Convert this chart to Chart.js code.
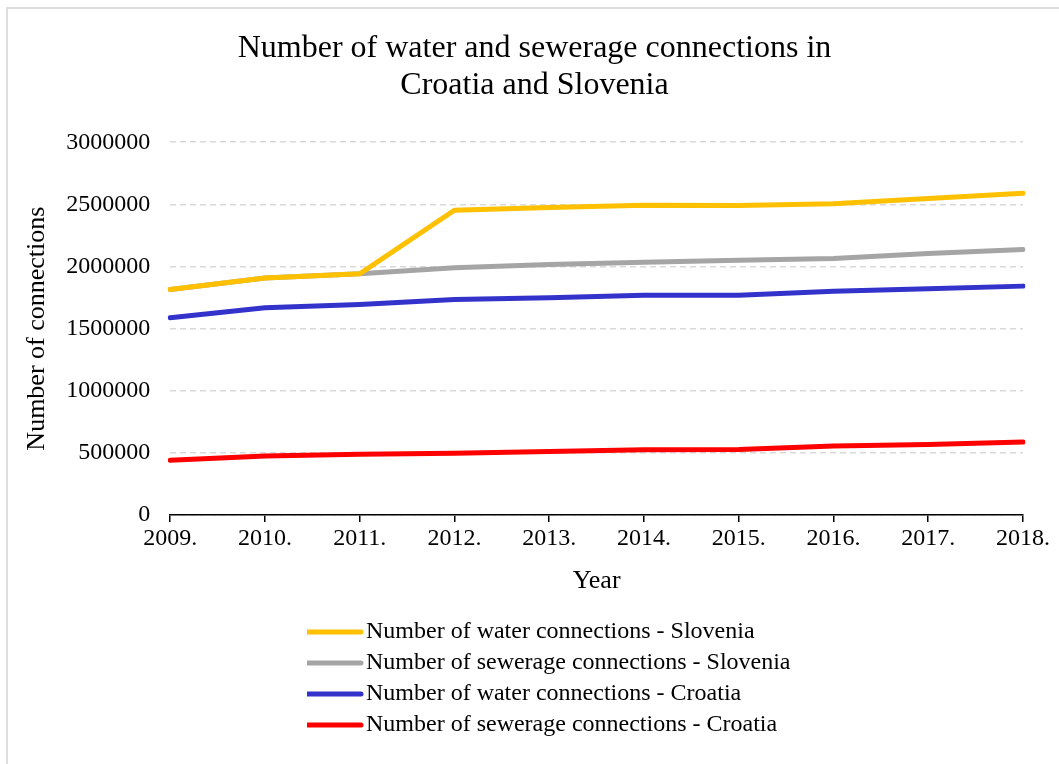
<!DOCTYPE html>
<html>
<head>
<meta charset="utf-8">
<script src="https://cdn.jsdelivr.net/npm/chart.js@4.4.1/dist/chart.umd.min.js"></script>
<style>
  html, body { margin: 0; padding: 0; background: #fff; overflow: hidden; }
  #frame {
    position: absolute; left: 6px; top: 7px;
    width: 1100px; height: 800px;
    border: 2px solid #dedede;
  }
  #chart { position: absolute; left: 0; top: 0; }
</style>
</head>
<body>
<div id="frame"></div>
<canvas id="chart" width="1059" height="764"></canvas>
<script>
const years = ["2009.", "2010.", "2011.", "2012.", "2013.", "2014.", "2015.", "2016.", "2017.", "2018."];

const waterSlovenia    = [1815000, 1908000, 1941000, 2453000, 2475000, 2493000, 2490000, 2504000, 2547000, 2590000];
const sewerageSlovenia = [1815000, 1908000, 1941000, 1989000, 2016000, 2035000, 2051000, 2064000, 2105000, 2137000];
const waterCroatia     = [1587000, 1667000, 1694000, 1735000, 1748000, 1769000, 1769000, 1800000, 1820000, 1842000];
const sewerageCroatia  = [440000, 474000, 488000, 496000, 512000, 525000, 528000, 555000, 568000, 587000];

const seriesNames = [
  "Number of water connections - Slovenia",
  "Number of sewerage connections - Slovenia",
  "Number of water connections - Croatia",
  "Number of sewerage connections - Croatia"
];
const seriesColors = ["#FFC000", "#A5A5A5", "#3333CC", "#FF0000"];

const serif = "'Liberation Serif', 'Times New Roman', serif";

function line(i, data) {
  return {
    label: seriesNames[i],
    data: data,
    borderColor: seriesColors[i],
    backgroundColor: seriesColors[i],
    borderWidth: 5,
    borderCapStyle: "round",
    pointRadius: 0,
    tension: 0
  };
}

// small line sample for the legend, a bit wider than the legend box so the text sits close
function sample(color) {
  const c = document.createElement("canvas");
  c.width = 60;
  c.height = 8;
  const g = c.getContext("2d");
  g.strokeStyle = color;
  g.lineWidth = 5;
  g.lineCap = "round";
  g.beginPath();
  g.moveTo(3, 4);
  g.lineTo(57, 4);
  g.stroke();
  return c;
}

// legend rows are left aligned under the plot, title is centred on the frame
const placeBoxes = {
  id: "placeBoxes",
  afterLayout(chart) {
    const lg = chart.legend;
    const dx = 307 - lg.left;
    lg.left += dx;
    lg.right += dx;
    const tb = chart.titleBlock;
    const tx = 534.5 - (tb.left + tb.right) / 2;
    tb.left += tx;
    tb.right += tx;
  }
};

new Chart(document.getElementById("chart").getContext("2d"), {
  type: "line",
  data: {
    labels: years,
    datasets: [
      line(0, waterSlovenia),
      line(1, sewerageSlovenia),
      line(2, waterCroatia),
      line(3, sewerageCroatia)
    ]
  },
  plugins: [placeBoxes],
  options: {
    responsive: false,
    devicePixelRatio: 1,
    animation: false,
    layout: { padding: { left: 8, right: 36, top: 8, bottom: 17 } },
    plugins: {
      title: {
        display: true,
        text: ["Number of water and sewerage connections in", "Croatia and Slovenia"],
        color: "#000",
        font: { family: serif, size: 32, weight: "normal", lineHeight: 1.16 },
        padding: { top: 22, bottom: 38 }
      },
      legend: {
        position: "bottom",
        align: "start",
        fullSize: false,
        labels: {
          color: "#000",
          font: { family: serif, size: 24 },
          usePointStyle: true,
          pointStyleWidth: 40,
          padding: 7,
          generateLabels: chart => chart.data.datasets.map((ds, i) => ({
            text: ds.label,
            datasetIndex: i,
            fillStyle: ds.borderColor,
            strokeStyle: ds.borderColor,
            lineWidth: 0,
            pointStyle: sample(ds.borderColor),
            fontColor: "#000",
            hidden: false
          }))
        }
      },
      tooltip: { enabled: false }
    },
    scales: {
      x: {
        offset: false,
        grid: { drawOnChartArea: false, color: "#000", lineWidth: 1.5, tickLength: 7 },
        border: { color: "#000", width: 1.5 },
        ticks: { color: "#000", font: { family: serif, size: 24 }, padding: 2, maxRotation: 0, autoSkip: false },
        title: {
          display: true, text: "Year", color: "#000",
          font: { family: serif, size: 26 }, padding: { top: 11, bottom: 16 }
        }
      },
      y: {
        min: 0,
        max: 3000000,
        grid: { color: "#d9d9d9", lineWidth: 1.5, drawTicks: false },
        border: { display: false, dash: [6, 4] },
        ticks: {
          stepSize: 500000,
          color: "#000",
          font: { family: serif, size: 24 },
          padding: 20,
          callback: v => String(v)
        },
        title: {
          display: true, text: "Number of connections", color: "#000",
          font: { family: serif, size: 26 }, padding: { top: 14, bottom: -7 }
        }
      }
    }
  }
});
</script>
</body>
</html>
